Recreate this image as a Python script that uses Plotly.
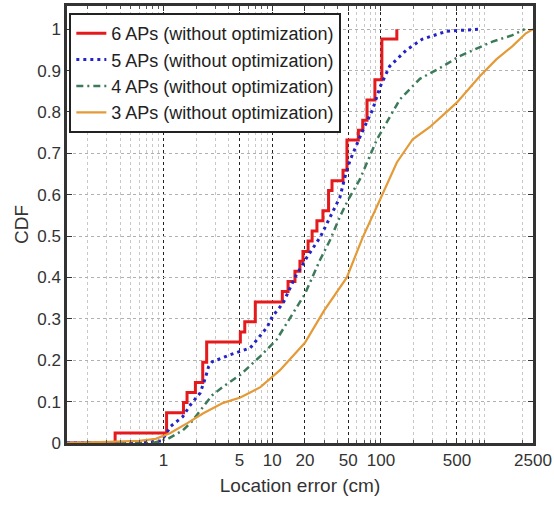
import plotly.graph_objects as go
import numpy as np

# ---- data ----
red_x = [0.13, 0.36, 1.07, 1.53, 1.65, 1.97, 2.3, 2.5, 5.1, 5.6, 7.0, 12.4, 14, 16.2, 18, 19.2, 21.4, 23.3, 25.8, 29.3, 33, 35.5, 44.8, 48.7, 62, 68, 74.5, 88, 102, 140]
red_y = [0, 0.024, 0.073, 0.098, 0.122, 0.146, 0.195, 0.244, 0.268, 0.293, 0.341, 0.366, 0.39, 0.415, 0.439, 0.463, 0.488, 0.512, 0.537, 0.561, 0.61, 0.634, 0.659, 0.732, 0.756, 0.78, 0.829, 0.878, 0.976, 1.0]

blue_x = [0.13, 0.6, 0.95, 1.05, 1.16, 1.5, 1.77, 2.18, 2.43, 2.6, 2.8, 4.1, 6.3, 9.0, 10, 12.6, 16.2, 21, 27.6, 34, 42, 46.6, 52, 66.7, 84, 98, 120, 172, 241, 402, 800]
blue_y = [0, 0, 0.005, 0.02, 0.04, 0.063, 0.092, 0.121, 0.157, 0.184, 0.196, 0.213, 0.23, 0.28, 0.305, 0.338, 0.40, 0.45, 0.497, 0.546, 0.594, 0.642, 0.683, 0.75, 0.806, 0.86, 0.91, 0.95, 0.976, 0.995, 1.0]

green_x = [0.13, 0.8, 1.1, 1.5, 1.8, 2.2, 2.8, 3.5, 5.1, 7.8, 11, 20, 27.6, 34, 42, 50, 64, 92, 149, 228, 370, 530, 1060, 1600, 2100]
green_y = [0, 0, 0.01, 0.03, 0.05, 0.08, 0.115, 0.135, 0.165, 0.21, 0.25, 0.36, 0.443, 0.49, 0.547, 0.588, 0.637, 0.734, 0.83, 0.88, 0.91, 0.935, 0.97, 0.985, 1.0]

orange_x = [0.13, 0.3, 0.6, 0.85, 1.16, 1.66, 2.33, 3.55, 5.1, 7.8, 11.8, 20, 30, 48.6, 68, 98, 120, 140, 196, 280, 402, 500, 810, 1150, 1620, 2150, 2500]
orange_y = [0, 0.003, 0.005, 0.01, 0.024, 0.048, 0.072, 0.097, 0.11, 0.135, 0.176, 0.242, 0.32, 0.40, 0.497, 0.588, 0.637, 0.678, 0.734, 0.763, 0.80, 0.823, 0.886, 0.927, 0.959, 0.99, 1.0]

names = ["6 APs (without optimization)", "5 APs (without optimization)",
         "4 APs (without optimization)", "3 APs (without optimization)"]

x_ticks = [1, 5, 10, 20, 50, 100, 500, 2500]
x_tick_labels = ["1", "5", "10", "20", "50", "100", "500", "2500"]
y_ticks = [0, 0.1, 0.2, 0.3, 0.4, 0.5, 0.6, 0.7, 0.8, 0.9, 1]
y_tick_labels = ["0", "0.1", "0.2", "0.3", "0.4", "0.5", "0.6", "0.7", "0.8", "0.9", "1"]

minor_x = [round(m * d, 3) for d in (0.1, 1, 10, 100, 1000) for m in range(2, 10)
           if 0.13 <= m * d <= 2500 and round(m * d, 3) not in x_ticks]

FONT = "Liberation Sans, Arial, sans-serif"
TXT = "#333333"

fig = go.Figure()
fig.add_trace(go.Scatter(x=red_x, y=red_y, name=names[0], mode="lines",
                         line=dict(color="#e41a1c", width=3, shape="hv")))
fig.add_trace(go.Scatter(x=blue_x, y=blue_y, name=names[1], mode="lines",
                         line=dict(color="#2323c8", width=3, dash="3px,4px")))
fig.add_trace(go.Scatter(x=green_x, y=green_y, name=names[2], mode="lines",
                         line=dict(color="#3c7a5a", width=2.5, dash="7px,4px,2px,4px")))
fig.add_trace(go.Scatter(x=orange_x, y=orange_y, name=names[3], mode="lines",
                         line=dict(color="#e49a36", width=2.2)))

fig.update_layout(
    width=554, height=506,
    margin=dict(l=67, r=21, t=6, b=63, autoexpand=False),
    paper_bgcolor="white", plot_bgcolor="white",
    font=dict(family=FONT, size=17, color=TXT),
    showlegend=True,
    legend=dict(x=0.005, y=0.984, xanchor="left", yanchor="top",
                bgcolor="white", bordercolor="#222222", borderwidth=2,
                font=dict(family=FONT, size=18, color="#222222"),
                itemwidth=30, tracegroupgap=0),
    xaxis=dict(
        type="log", range=[np.log10(0.13), np.log10(2500)],
        automargin=False,
        tickmode="array", tickvals=x_ticks, ticktext=x_tick_labels,
        ticks="inside", ticklen=5, tickcolor="#333333",
        showline=True, linecolor="#333333", linewidth=2.5, mirror="allticks",
        showgrid=True, gridcolor="#222222", griddash="dot", gridwidth=1,
        minor=dict(tickvals=minor_x, ticks="inside", ticklen=3, tickcolor="#555555",
                   showgrid=True, gridcolor="#c8c8c8", griddash="dot", gridwidth=1),
        title=dict(text="Location error (cm)", font=dict(size=19, color=TXT), standoff=10),
        tickfont=dict(size=17, color=TXT),
        zeroline=False,
    ),
    yaxis=dict(
        range=[0, 1.056],
        automargin=False,
        tickmode="array", tickvals=y_ticks, ticktext=y_tick_labels,
        ticks="inside", ticklen=5, tickcolor="#333333",
        showline=True, linecolor="#333333", linewidth=2.5, mirror="allticks",
        showgrid=True, gridcolor="#b0b0b0", griddash="dot", gridwidth=1,
        title=dict(text="CDF", font=dict(size=19, color=TXT), standoff=4),
        tickfont=dict(size=17, color=TXT),
        zeroline=False,
    ),
)

fig.write_html("out.html",
               config={"displayModeBar": False},
               post_script="document.body.style.margin='0px';document.body.style.overflow='hidden';")
